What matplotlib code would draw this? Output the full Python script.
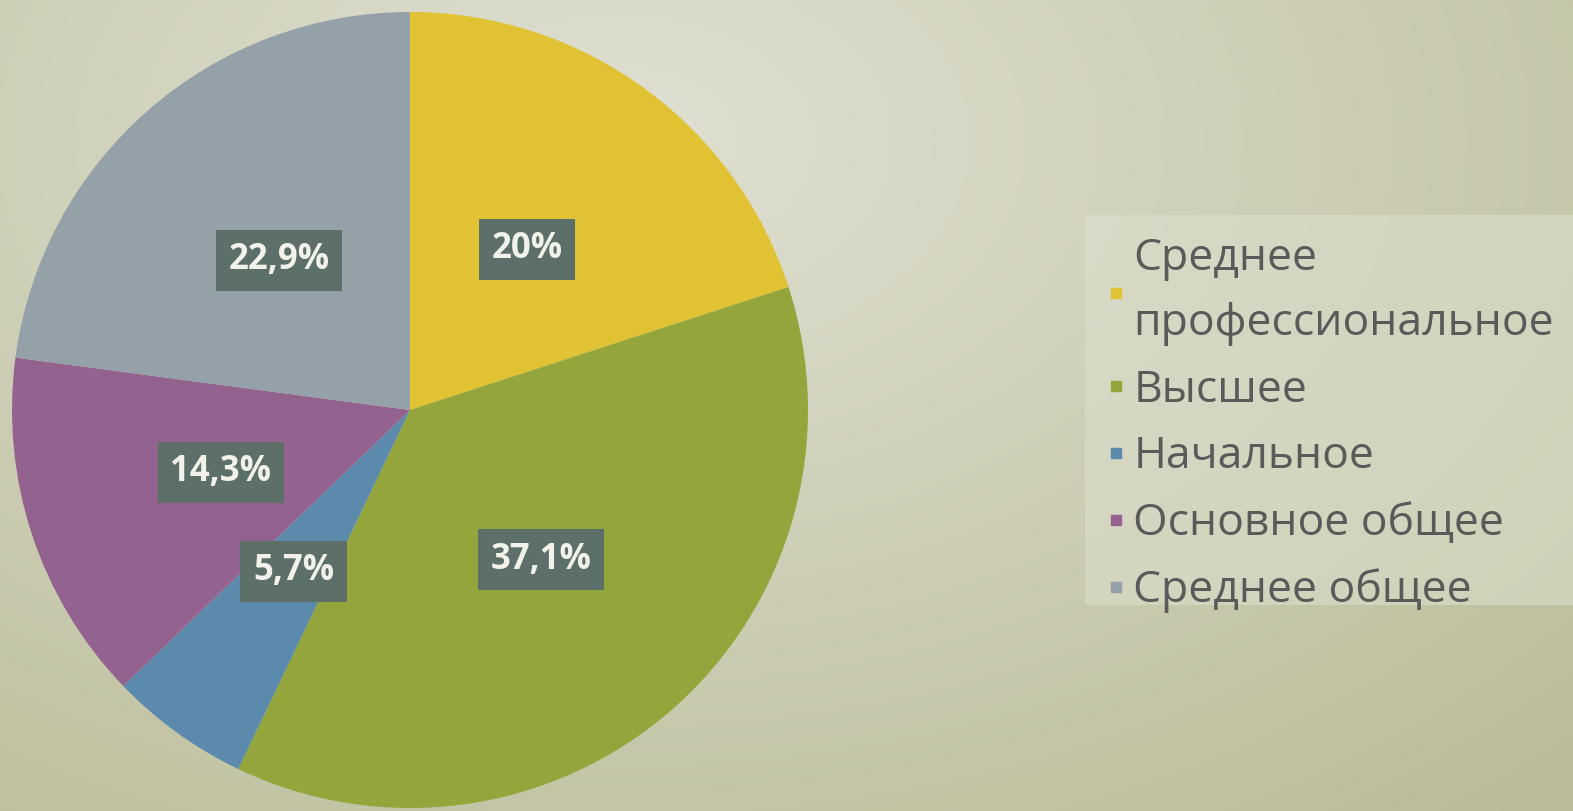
import numpy as np
import matplotlib
matplotlib.use("Agg")
import matplotlib.pyplot as plt
from matplotlib.lines import Line2D
from matplotlib.patches import Rectangle

# data (clockwise from 12 o'clock)
categories = ["Среднее\nпрофессиональное", "Высшее", "Начальное",
              "Основное общее", "Среднее общее"]
shares = [20.0, 37.1, 5.7, 14.3, 22.9]
colors = ["#e0c232", "#94a63b", "#5b8aad", "#93628f", "#95a1a8"]

W, H, DPI = 1573, 811, 100
FONT = ["Open Sans", "DejaVu Sans"]


def pct_label(p):
    s = f"{p:.1f}".replace(".", ",")
    if s.endswith(",0"):
        s = s[:-2]
    return s + "%"


fig = plt.figure(figsize=(W / DPI, H / DPI), dpi=DPI)

# soft slide-like background gradient
bg = fig.add_axes([0, 0, 1, 1])
yy, xx = np.mgrid[0:H, 0:W]
t = np.sqrt(((xx - 620) / 1400.0) ** 2 + ((yy - 140) / 900.0) ** 2)
t = np.clip(t, 0, 1)[..., None]
light = np.array([224, 224, 211]) / 255.0
dark = np.array([186, 188, 151]) / 255.0
bg.imshow(light + (dark - light) * t, aspect="auto", extent=[0, 1, 0, 1])
# lighter panel behind the legend
bg.add_patch(Rectangle((1085 / W, 1 - 605 / H), (W - 1085) / W, 390 / H,
                       transform=bg.transAxes, fc="#dedfce", ec="none", alpha=0.55))
bg.set_xlim(0, 1)
bg.set_ylim(0, 1)
bg.set_axis_off()

# pie axes: centre ~ (410, 410) px, radius ~ 398 px
R, C = 398, 410
ax = fig.add_axes([(C - 400) / W, (H - C - 400) / H, 800 / W, 800 / H])
wedges, _, autotexts = ax.pie(shares, colors=colors, startangle=90, counterclock=False,
                              autopct=pct_label, pctdistance=0.5, radius=1.0,
                              wedgeprops=dict(linewidth=0))
ax.set_xlim(-400 / R, 400 / R)
ax.set_ylim(-400 / R, 400 / R)
ax.set_axis_off()
for at in autotexts:
    at.set_fontfamily(FONT)
    at.set_fontsize(25)
    at.set_fontweight("bold")
    at.set_color("#f2f2ea")
    at.set_bbox(dict(boxstyle="square,pad=0.36", fc="#5c6f68", ec="none"))

# legend on the right
handles = [Line2D([0], [0], marker="s", ls="none", color=c, markersize=7) for c in colors]
leg = fig.legend(handles, categories, loc="center left", bbox_to_anchor=(1080 / W, 1 - 425 / H),
                 frameon=False, handlelength=0.6, handletextpad=0.1,
                 borderpad=0.0, labelspacing=0.5,
                 prop=dict(family=FONT, size=32))
for txt in leg.get_texts():
    txt.set_color("#5a5a5a")
    txt.set_linespacing(1.6)

fig.savefig("out.png", dpi=DPI)
